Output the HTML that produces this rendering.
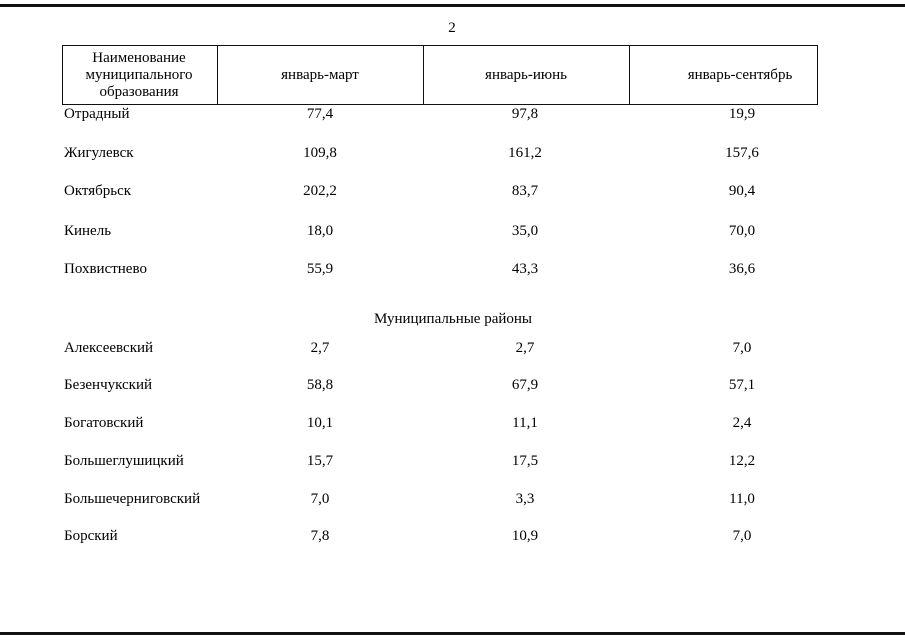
<!DOCTYPE html>
<html><head><meta charset="utf-8"><style>
body{margin:0;width:905px;height:640px;background:#fff;position:relative;overflow:hidden;font-family:"Liberation Serif",serif;font-size:15px;color:#000}
.l{position:absolute;background:#111}
.t{position:absolute;white-space:nowrap;line-height:15px;margin-top:1px}
.c{position:absolute;white-space:nowrap;line-height:15px;transform:translateX(-50%);text-align:center;margin-top:1px}
</style></head><body>
<div class="l" style="left:0;top:4px;width:905px;height:3px"></div>
<div class="l" style="left:0;top:632px;width:905px;height:3px"></div>
<div class="c" style="left:452px;top:20px">2</div>
<div style="position:absolute;left:62px;top:45px;width:754px;height:58px;border:1px solid #111"></div>
<div class="l" style="left:217px;top:45px;width:1px;height:60px"></div>
<div class="l" style="left:423px;top:45px;width:1px;height:60px"></div>
<div class="l" style="left:629px;top:45px;width:1px;height:60px"></div>
<div class="c" style="left:139px;top:49px;line-height:17px">Наименование<br>муниципального<br>образования</div>
<div class="c" style="left:320px;top:67px">январь-март</div>
<div class="c" style="left:526px;top:67px">январь-июнь</div>
<div class="c" style="left:740px;top:67px">январь-сентябрь</div>

<div class="t" style="left:64px;top:106px">Отрадный</div><div class="c" style="left:320px;top:106px">77,4</div><div class="c" style="left:525px;top:106px">97,8</div><div class="c" style="left:742px;top:106px">19,9</div>
<div class="t" style="left:64px;top:145px">Жигулевск</div><div class="c" style="left:320px;top:145px">109,8</div><div class="c" style="left:525px;top:145px">161,2</div><div class="c" style="left:742px;top:145px">157,6</div>
<div class="t" style="left:64px;top:183px">Октябрьск</div><div class="c" style="left:320px;top:183px">202,2</div><div class="c" style="left:525px;top:183px">83,7</div><div class="c" style="left:742px;top:183px">90,4</div>
<div class="t" style="left:64px;top:223px">Кинель</div><div class="c" style="left:320px;top:223px">18,0</div><div class="c" style="left:525px;top:223px">35,0</div><div class="c" style="left:742px;top:223px">70,0</div>
<div class="t" style="left:64px;top:261px">Похвистнево</div><div class="c" style="left:320px;top:261px">55,9</div><div class="c" style="left:525px;top:261px">43,3</div><div class="c" style="left:742px;top:261px">36,6</div>
<div class="c" style="left:453px;top:311px">Муниципальные районы</div>
<div class="t" style="left:64px;top:340px">Алексеевский</div><div class="c" style="left:320px;top:340px">2,7</div><div class="c" style="left:525px;top:340px">2,7</div><div class="c" style="left:742px;top:340px">7,0</div>
<div class="t" style="left:64px;top:377px">Безенчукский</div><div class="c" style="left:320px;top:377px">58,8</div><div class="c" style="left:525px;top:377px">67,9</div><div class="c" style="left:742px;top:377px">57,1</div>
<div class="t" style="left:64px;top:415px">Богатовский</div><div class="c" style="left:320px;top:415px">10,1</div><div class="c" style="left:525px;top:415px">11,1</div><div class="c" style="left:742px;top:415px">2,4</div>
<div class="t" style="left:64px;top:453px">Большеглушицкий</div><div class="c" style="left:320px;top:453px">15,7</div><div class="c" style="left:525px;top:453px">17,5</div><div class="c" style="left:742px;top:453px">12,2</div>
<div class="t" style="left:64px;top:491px">Большечерниговский</div><div class="c" style="left:320px;top:491px">7,0</div><div class="c" style="left:525px;top:491px">3,3</div><div class="c" style="left:742px;top:491px">11,0</div>
<div class="t" style="left:64px;top:528px">Борский</div><div class="c" style="left:320px;top:528px">7,8</div><div class="c" style="left:525px;top:528px">10,9</div><div class="c" style="left:742px;top:528px">7,0</div>
</body></html>
